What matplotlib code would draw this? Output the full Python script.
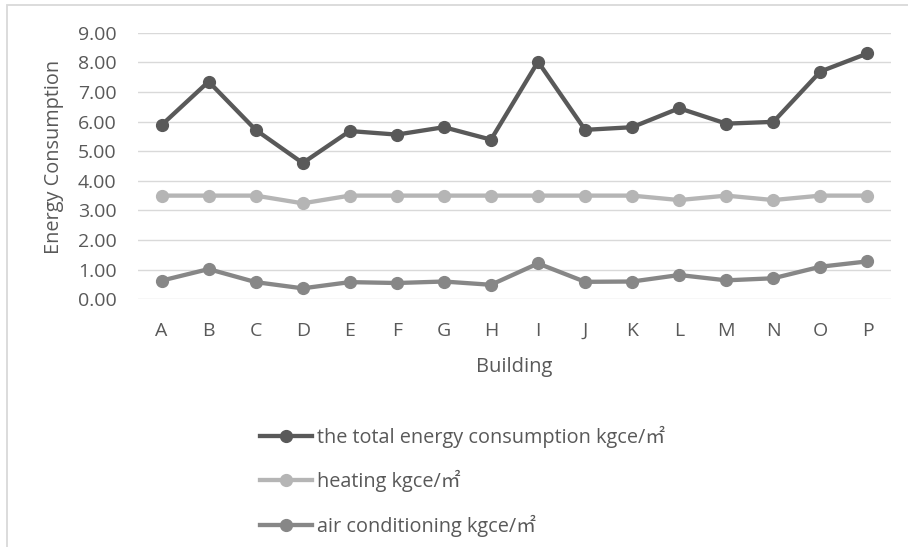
import matplotlib
matplotlib.use("Agg")
import matplotlib.pyplot as plt
from matplotlib.patches import Rectangle
from matplotlib.lines import Line2D

buildings = list("ABCDEFGHIJKLMNOP")
total = [5.88, 7.35, 5.72, 4.60, 5.68, 5.56, 5.81, 5.39, 8.02, 5.72, 5.81, 6.45, 5.93, 5.99, 7.69, 8.30]
heating = [3.50, 3.50, 3.50, 3.24, 3.50, 3.50, 3.50, 3.50, 3.50, 3.50, 3.50, 3.35, 3.50, 3.35, 3.50, 3.50]
aircon = [0.63, 1.02, 0.58, 0.37, 0.58, 0.55, 0.60, 0.49, 1.21, 0.59, 0.60, 0.82, 0.64, 0.71, 1.10, 1.28]
yticks = [0, 1, 2, 3, 4, 5, 6, 7, 8, 9]
labels = ["the total energy consumption kgce/\u33a1", "heating kgce/\u33a1", "air conditioning kgce/\u33a1"]
colors = ["#595959", "#b5b5b5", "#878787"]

fam = ["Open Sans", "Noto Sans CJK SC", "DejaVu Sans"]
plt.rcParams["font.family"] = fam
txt = "#595959"

W, H = 908, 547
fig = plt.figure(figsize=(W / 100, H / 100), dpi=100)
fig.patch.set_facecolor("white")
fig.patches.append(Rectangle((7 / W, -0.2), 1.2, 1.2 - 5 / H, transform=fig.transFigure,
                             fill=False, edgecolor="#d9d9d9", linewidth=1.3))

ax_l, ax_r, ax_t, ax_b = 138, 891, 32.7, 299.3
ax = fig.add_axes([ax_l / W, 1 - ax_b / H, (ax_r - ax_l) / W, (ax_b - ax_t) / H])
x = list(range(len(buildings)))
for vals, c in zip([total, heating, aircon], colors):
    ax.plot(x, vals, color=c, linewidth=3.1, marker="o", markersize=8.5, solid_capstyle="round", zorder=3)

ax.set_xlim(-0.5, len(buildings) - 0.5)
ax.set_ylim(0, 9)
ax.set_yticks(yticks)
ax.set_yticklabels([f"{v:.2f}" for v in yticks])
ax.set_xticks(x)
ax.set_xticklabels(buildings)
ax.grid(axis="y", color="#d9d9d9", linewidth=1.0, zorder=0)
ax.set_axisbelow(True)
for s in ax.spines.values():
    s.set_visible(False)
ax.tick_params(axis="both", length=0, colors=txt, labelsize=14)
ax.tick_params(axis="y", pad=15.3)
ax.tick_params(axis="x", pad=16.5)

ax.set_ylabel("Energy Consumption", color=txt, fontsize=14.3)
ax.yaxis.set_label_coords((64 - ax_l) / (ax_r - ax_l), (ax_b - 156.7) / (ax_b - ax_t))
ax.set_xlabel("Building", color=txt, fontsize=14.5)
ax.xaxis.set_label_coords(0.5, (ax_b - 357.2) / (ax_b - ax_t))

handles = [Line2D([0], [0], color=c, linewidth=3.1, marker="o", markersize=8.5) for c in colors]
leg = fig.legend(handles, labels, loc="upper left", bbox_to_anchor=(260 / W, 1 - 426 / H),
                 frameon=False, fontsize=14.3, labelcolor=txt, handlelength=2.6,
                 handletextpad=0.25, labelspacing=1.11, borderaxespad=0, borderpad=0)

fig.savefig("out.png", dpi=100)
